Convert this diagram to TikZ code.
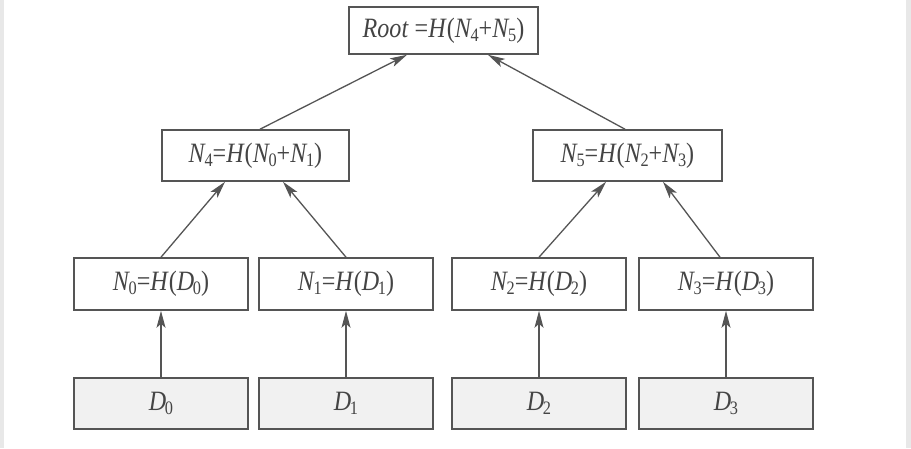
\documentclass[tikz,border=0pt]{standalone}
\usepackage{fontspec}
\setmainfont{Liberation Serif}[FakeStretch=0.86]
\usetikzlibrary{arrows.meta}
\definecolor{ln}{HTML}{555555}
\definecolor{tx}{HTML}{444444}
\definecolor{dfill}{HTML}{F1F1F1}
\newcommand\vv[2]{\textit{#1}\kern-0.05em\raisebox{-0.3ex}{\fontsize{19}{19}\selectfont #2}}
\tikzset{
  box/.style={draw=ln, line width=1.6pt, rectangle, inner sep=0pt, text=tx,
    minimum width=174pt, minimum height=52pt, font=\fontsize{28}{30}\selectfont},
  dbox/.style={box, fill=dfill, minimum height=51pt},
  arr/.style={draw=ln, line width=1.3pt, -{Stealth[length=17pt,width=9pt,inset=4pt]}}
}
\begin{document}
\begin{tikzpicture}[x=1pt,y=-1pt]
\useasboundingbox (0,0) rectangle (911,448);
\fill[white] (0,0) rectangle (911,448);
\fill[black!9] (0,0) rectangle (4,448);
\fill[black!9] (906,0) rectangle (911,448);
\node[box, minimum width=189pt, minimum height=47pt] (R) at (443.5,30.5) {\textit{Root} =\textit{H}(\vv{N}{4}+\vv{N}{5})};
\node[box, minimum width=187pt, minimum height=51pt] (N4) at (255.5,155.5) {\vv{N}{4}=\textit{H}(\vv{N}{0}+\vv{N}{1})};
\node[box, minimum width=189pt, minimum height=51pt] (N5) at (627.5,155.5) {\vv{N}{5}=\textit{H}(\vv{N}{2}+\vv{N}{3})};
\node[box] (N0) at (161,284) {\vv{N}{0}=\textit{H}(\vv{D}{0})};
\node[box] (N1) at (346,284) {\vv{N}{1}=\textit{H}(\vv{D}{1})};
\node[box] (N2) at (539,284) {\vv{N}{2}=\textit{H}(\vv{D}{2})};
\node[box] (N3) at (726,284) {\vv{N}{3}=\textit{H}(\vv{D}{3})};
\node[dbox] (D0) at (161,403.5) {\vv{D}{0}};
\node[dbox] (D1) at (346,403.5) {\vv{D}{1}};
\node[dbox] (D2) at (539,403.5) {\vv{D}{2}};
\node[dbox] (D3) at (726,403.5) {\vv{D}{3}};
\draw[arr] (D0.north) -- (N0.south);
\draw[arr] (D1.north) -- (N1.south);
\draw[arr] (D2.north) -- (N2.south);
\draw[arr] (D3.north) -- (N3.south);
\draw[arr] (N0.north) -- ([xshift=-30.5pt]N4.south);
\draw[arr] (N1.north) -- ([xshift=27.5pt]N4.south);
\draw[arr] (N2.north) -- ([xshift=-21.5pt]N5.south);
\draw[arr] ([xshift=-6pt]N3.north) -- ([xshift=35.5pt]N5.south);
\draw[arr] ([xshift=4.5pt]N4.north) -- ([xshift=-36.5pt]R.south);
\draw[arr] ([xshift=-2.5pt]N5.north) -- ([xshift=44.5pt]R.south);
\end{tikzpicture}
\end{document}
